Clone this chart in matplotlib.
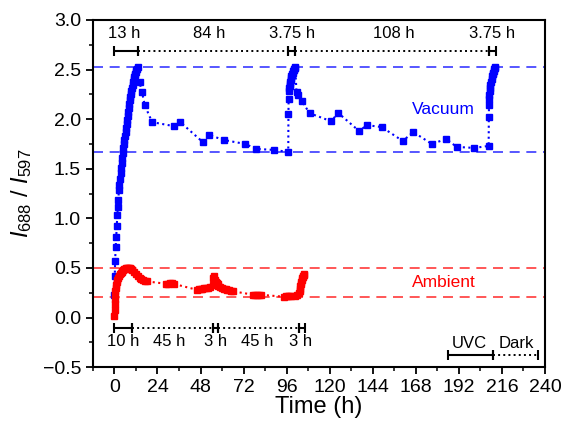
import numpy as np
import matplotlib
matplotlib.use("Agg")
import matplotlib.pyplot as plt
from matplotlib.ticker import MultipleLocator

plt.rcParams.update({
    "font.family": ["Liberation Sans", "DejaVu Sans"],
    "mathtext.fontset": "custom",
    "mathtext.rm": "Liberation Sans",
    "mathtext.it": "Liberation Sans:italic",
    "font.size": 14,
})

# ===========================
# Data
# ===========================

# Vacuum: 13 h UVC, 84 h dark, 3.75 h UVC, 108 h dark, 3.75 h UVC
t_vac = [0.0, 0.2, 0.4, 0.7, 1.0, 1.3, 1.6, 1.9, 2.2, 2.5,
         2.8, 3.2, 3.5, 3.8, 4.1, 4.4, 4.7, 5.0, 5.3, 5.6,
         5.9, 6.2, 6.5, 6.8, 7.1, 7.4, 7.7, 8.0, 8.3, 8.6,
         8.9, 9.2, 9.5, 9.8, 10.1, 10.4, 10.7, 11.0, 11.3, 11.6,
         11.9, 12.2, 12.6, 13.0,
         14.0, 15.4, 16.9, 21.0, 33.0, 36.7, 49.2, 52.9, 60.9, 72.9,
         79.1, 88.7, 96.9,
         97.0, 97.1, 97.25, 97.4, 97.6, 97.8, 98.0, 98.2, 98.4, 98.7,
         99.0, 99.3, 99.6, 99.9, 100.2, 100.5, 100.75,
         101.5, 102.6, 104.5, 108.8, 120.6, 124.9, 136.4, 140.7, 149.0,
         160.7, 166.6, 176.9, 184.9, 190.8, 200.6, 208.6,
         208.7, 208.8, 208.9, 209.0, 209.2, 209.4, 209.6, 209.9, 210.2,
         210.5, 210.8, 211.1, 211.4, 211.7, 212.0, 212.4]
r_vac = [0.23, 0.42, 0.57, 0.71, 0.81, 0.92, 1.03, 1.11, 1.19, 1.29,
         1.34, 1.40, 1.46, 1.51, 1.56, 1.61, 1.66, 1.71, 1.75, 1.79,
         1.83, 1.87, 1.91, 1.95, 1.99, 2.03, 2.07, 2.11, 2.15, 2.19,
         2.22, 2.25, 2.28, 2.31, 2.34, 2.37, 2.40, 2.42, 2.44, 2.46,
         2.48, 2.50, 2.51, 2.53,
         2.37, 2.27, 2.14, 1.97, 1.93, 1.97, 1.77, 1.84, 1.79, 1.75,
         1.70, 1.69, 1.67,
         2.05, 2.20, 2.28, 2.31, 2.33, 2.35, 2.37, 2.39, 2.41, 2.43,
         2.45, 2.47, 2.49, 2.50, 2.51, 2.52, 2.53,
         2.27, 2.24, 2.18, 2.06, 1.98, 2.06, 1.88, 1.94, 1.92,
         1.78, 1.87, 1.75, 1.80, 1.72, 1.71, 1.73,
         2.02, 2.14, 2.20, 2.24, 2.28, 2.31, 2.34, 2.37, 2.40,
         2.43, 2.45, 2.47, 2.49, 2.51, 2.52, 2.53]

# Ambient: 10 h UVC, 45 h dark, 3 h UVC, 45 h dark, 3 h UVC
t_amb = [0.0, 0.1, 0.2, 0.3, 0.4, 0.6, 0.8, 1.0, 1.3, 1.6,
         2.0, 2.5, 3.0, 3.5, 4.0, 4.5, 5.0, 5.5, 6.0, 6.5,
         7.0, 7.5, 8.0, 8.5, 9.0, 9.5, 10.0,
         11.0, 12.0, 13.0, 14.0, 15.0, 16.0, 17.0, 18.0,
         29.0, 30.0, 31.0, 32.0, 33.0,
         46.0, 47.0, 48.0, 49.0, 50.0, 51.0, 52.0, 53.0,
         55.0, 55.2, 55.5, 56.0, 56.5, 57.0, 57.5, 58.0, 59.0, 60.0,
         61.0, 62.0, 63.0, 64.0, 65.0, 66.0,
         77.5, 78.5, 79.5, 80.5, 81.5,
         94.5, 95.5, 96.5, 97.5, 98.5, 100.5, 102.0,
         103.0, 103.2, 103.4, 103.6, 103.8, 104.0, 104.3, 104.6, 104.9,
         105.2, 105.5, 105.9]
r_amb = [0.02, 0.08, 0.14, 0.19, 0.23, 0.27, 0.30, 0.33, 0.36, 0.38,
         0.40, 0.42, 0.44, 0.45, 0.46, 0.47, 0.48, 0.485, 0.49, 0.495,
         0.50, 0.50, 0.50, 0.50, 0.49, 0.49, 0.48,
         0.46, 0.44, 0.42, 0.40, 0.39, 0.38, 0.37, 0.365,
         0.34, 0.34, 0.345, 0.345, 0.34,
         0.28, 0.285, 0.29, 0.29, 0.295, 0.30, 0.30, 0.31,
         0.33, 0.40, 0.42, 0.38, 0.36, 0.35, 0.34, 0.32, 0.31, 0.30,
         0.29, 0.285, 0.28, 0.275, 0.27, 0.265,
         0.23, 0.23, 0.225, 0.23, 0.23,
         0.21, 0.215, 0.215, 0.22, 0.22, 0.22, 0.23,
         0.25, 0.27, 0.29, 0.32, 0.34, 0.36, 0.38, 0.40, 0.41,
         0.42, 0.43, 0.44]

# reference levels (dashed)
vac_levels = [2.53, 1.67]
amb_levels = [0.50, 0.21]

# timelines: (start, end, is_uvc)
vac_phases = [(0, 13, True), (13, 97, False), (97, 100.75, True),
              (100.75, 208.75, False), (208.75, 212.5, True)]
vac_phase_labels = ["13 h", "84 h", "3.75 h", "108 h", "3.75 h"]
vac_label_x = [5.2, 53, 98.9, 155.5, 210.6]

amb_phases = [(0, 10, True), (10, 55, False), (55, 58, True),
              (58, 103, False), (103, 106, True)]
amb_phase_labels = ["10 h", "45 h", "3 h", "45 h", "3 h"]
amb_label_x = [4.8, 30.8, 56.2, 79.8, 104]

key_phases = [(186, 211, True), (211, 236, False)]

# ===========================
# Plot
# ===========================
fig = plt.figure(figsize=(5.63, 4.24), dpi=100)
ax = fig.add_axes([0.165, 0.134, 0.803, 0.819])

blue = "#0000ff"
red = "#ff0000"

for y in vac_levels:
    ax.axhline(y, color="#3a3aff", lw=1.2, dashes=(6, 4))
for y in amb_levels:
    ax.axhline(y, color="#ff3a3a", lw=1.2, dashes=(6, 4))

ax.plot(t_vac, r_vac, ls=":", lw=1.5, color=blue, marker="s", ms=5,
        mec=blue, mfc=blue, zorder=3)
ax.plot(t_amb, r_amb, ls=":", lw=1.5, color=red, marker="s", ms=5,
        mec=red, mfc=red, zorder=3)


def timeline(phases, y):
    for a, b, uvc in phases:
        ax.plot([a, b], [y, y], color="k", lw=1.5 if uvc else 1.4,
                ls="-" if uvc else ":", solid_capstyle="butt")
        ax.plot([a, b], [y, y], ls="none", marker="|", ms=7, mew=1.5,
                color="k")


timeline(vac_phases, 2.69)
for x, s in zip(vac_label_x, vac_phase_labels):
    ax.text(x, 2.86, s, ha="center", va="center", fontsize=12)

timeline(amb_phases, -0.11)
for x, s in zip(amb_label_x, amb_phase_labels):
    ax.text(x, -0.245, s, ha="center", va="center", fontsize=12)

timeline(key_phases, -0.38)
ax.text(198, -0.265, "UVC", ha="center", va="center", fontsize=12)
ax.text(224, -0.265, "Dark", ha="center", va="center", fontsize=12)

ax.text(183.6, 2.1, "Vacuum", color=blue, ha="center", va="center", fontsize=12.5)
ax.text(183.6, 0.35, "Ambient", color=red, ha="center", va="center", fontsize=12.5)

ax.set_xlim(-12, 240)
ax.set_ylim(-0.5, 3.0)
ax.xaxis.set_major_locator(MultipleLocator(24))
ax.xaxis.set_minor_locator(MultipleLocator(12))
ax.yaxis.set_major_locator(MultipleLocator(0.5))
ax.yaxis.set_minor_locator(MultipleLocator(0.25))
ax.tick_params(which="major", direction="out", length=5, width=1.3, labelsize=14)
ax.tick_params(which="minor", direction="out", length=3, width=1.1)
for sp in ax.spines.values():
    sp.set_linewidth(1.5)

ax.set_xlabel("Time (h)", fontsize=17, labelpad=0)
ax.set_ylabel(r"$I_{688}$ / $I_{597}$", fontsize=17, labelpad=6)

fig.savefig("out.png", dpi=100)
